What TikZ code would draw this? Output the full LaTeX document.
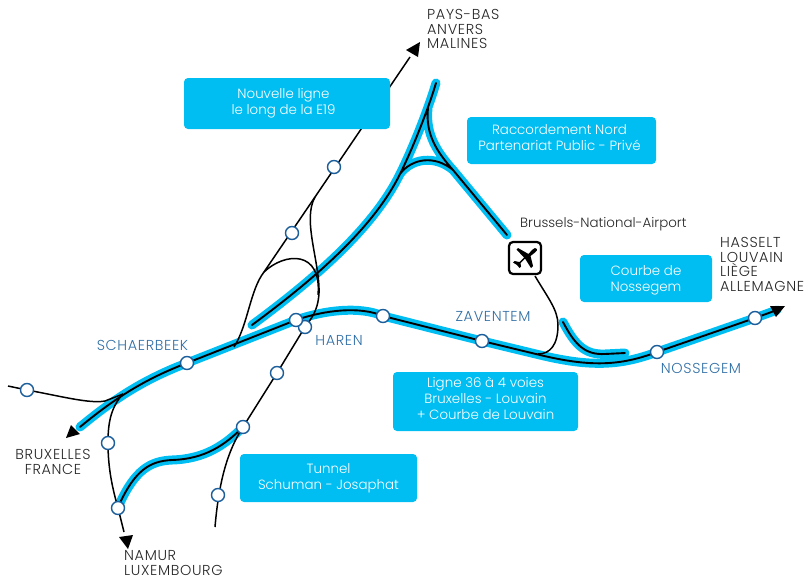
\documentclass[tikz,border=0pt]{standalone}
\usepackage{fontspec}
\setmainfont{Poppins Light}
\newfontfamily\capsfont[LetterSpace=4.5]{Poppins Light}
\definecolor{boxblue}{HTML}{00BDF2}
\definecolor{stnblue}{HTML}{1B5E9B}
\definecolor{placeblue}{HTML}{2F6EA5}
\newcommand\lift[1]{\rule[-#1pt]{0pt}{#1pt}}
\newcommand\drop[1]{\rule{0pt}{#1pt}}
\begin{document}
\begin{tikzpicture}[x=1pt,y=-1pt,
  stn/.style={circle,draw=stnblue,fill=white,line width=1.4pt,minimum size=13pt,inner sep=0pt},
  label box/.style={rectangle,rounded corners=4pt,fill=boxblue,text=white,align=center,anchor=center,font=\fontsize{13.4}{16}\selectfont,inner sep=0pt},
  place/.style={text=placeblue,font=\capsfont\fontsize{14.4}{15}\selectfont,inner sep=0pt},
  dest/.style={text=black!85,font=\capsfont\fontsize{14.4}{14.8}\selectfont,inner sep=0pt,align=left},
  wide/.style={draw=boxblue,line width=9pt,line cap=round,line join=round},
  core/.style={draw=black,line width=1.9pt,line cap=round,line join=round},
  thin track/.style={draw=black,line width=1.5pt},
  tip/.style={fill=black,draw=none}]
\useasboundingbox (0,0) rectangle (809,579);
% named points
\coordinate (bxl) at (80,427);
\coordinate (sch) at (187,363);
\coordinate (har) at (296,320);
\coordinate (top) at (436,83);
\coordinate (e19) at (252,325);
\coordinate (split) at (400,174);
\coordinate (merge) at (453,170);
\coordinate (apt) at (507,235);
\coordinate (east) at (777,310);
\def\tracks{
  (bxl) .. controls (115,398) and (145,379) .. (sch) -- (har)
     .. controls (325,310) and (360,306) .. (383,316) -- (482,341)
     -- (540,355) .. controls (590,367) and (620,366) .. (657,352) -- (755,318) -- (east)
  (e19) .. controls (320,275) and (375,225) .. (split) .. controls (412,150) and (428,110) .. (top)
  (split) .. controls (412,158) and (435,155) .. (merge) -- (apt)
  (428,108) .. controls (425,135) and (438,153) .. (merge)
  (563,322) .. controls (575,345) and (585,355) .. (605,354) -- (625,353)
  (119,505) .. controls (135,470) and (150,461) .. (172,460) .. controls (205,459) and (225,445) .. (243,427)
}
\path[wide] \tracks;
\path[core] \tracks;
% thin lines
\coordinate (north) at (410,57);
\coordinate (nordfork) at (315,197);
\coordinate (loopfork) at (264,272);
\coordinate (sjoin) at (215,527);
\coordinate (west) at (8,386);
\coordinate (wjoin) at (123,394);
\coordinate (sout) at (124,532);
\draw[thin track] (north) -- (nordfork) -- (loopfork) .. controls (250,290) and (248,325) .. (234,347);
\draw[thin track] (nordfork) .. controls (302,220) and (320,262) .. (319,293) .. controls (318,312) and (310,320) .. (305,327)
   -- (277,373) -- (243,427) .. controls (228,450) and (219,480) .. (sjoin);
\draw[thin track] (loopfork) .. controls (285,252) and (322,250) .. (318,295);
\draw[thin track] (west) -- (27,390) .. controls (60,396) and (90,404) .. (105,401) -- (wjoin);
\draw[thin track] (wjoin) .. controls (110,408) and (108,425) .. (108,443) .. controls (108,470) and (113,490) .. (118,508) -- (sout);
\draw[thin track] (535,276) .. controls (548,298) and (558,310) .. (558,325) .. controls (558,345) and (550,354) .. (538,354);
% arrow tips
\fill[tip] (71,425) -- (80,434) -- (66,438) -- cycle;
\fill[tip] (119,537) -- (133,535) -- (128,549) -- cycle;
\fill[tip] (770,306) -- (785,306) -- (776,317) -- cycle;
\fill[tip] (406,50) -- (420,42) -- (418,57) -- cycle;
% label boxes
\node[label box,minimum width=206pt,minimum height=51pt] (b1) at (287,103.5) {Nouvelle ligne\rule{7pt}{0pt}\\le long de la E19\rule{7pt}{0pt}\lift{4}};
\node[label box,minimum width=189pt,minimum height=47pt] (b2) at (561.5,140.5) {Raccordement Nord\rule{4pt}{0pt}\\Partenariat Public - Privé\rule{4pt}{0pt}\lift{6}};
\node[label box,minimum width=132pt,minimum height=47pt] (b3) at (646,278.5) {\drop{14}Courbe de\\Nossegem};
\node[label box,minimum width=185pt,minimum height=59pt] (b4) at (485.5,401.5) {Ligne 36 à 4 voies\\Bruxelles - Louvain\\+ Courbe de Louvain\lift{6}};
\node[label box,minimum width=177pt,minimum height=48pt] (b5) at (328.5,478) {Tunnel\\Schuman - Josaphat};
% stations
\foreach \n/\p in {s1/{27,390},s2/{187,363},s4/{305,327},s3/{296,320},s5/{383,316},s6/{482,341},s7/{657,352},s8/{755,318},s9/{334,167},s10/{292,233},s11/{277,373},s12/{243,427},s13/{218,495},s14/{108,443},s15/{118,508}}
  \node[stn] (\n) at (\p) {};
% airport
\node[draw=black,fill=white,line width=2.2pt,rounded corners=4pt,minimum size=32pt,inner sep=0pt] (plane) at (525,258) {};
\fill[black] (537,249) .. controls (536,247) and (534,248) .. (532,250) -- (528.5,254) -- (518,248) -- (516.5,249.5) -- (524,257.5) -- (519.5,262) -- (514.5,261) -- (513,262.5) -- (517,265) -- (519.5,268) -- (521,266.5) -- (520.5,263) -- (525,258.5) -- (531,268) -- (533,266) -- (530.5,256) -- (535,252.5) .. controls (537,250.5) and (537.5,250) .. (537,249) -- cycle;
% place labels
\node[place] (l1) at (142.5,345) {SCHAERBEEK};
\node[place] (l2) at (339,340) {HAREN};
\node[place] (l3) at (493,316) {ZAVENTEM};
\node[place] (l4) at (701,368) {NOSSEGEM};
% destinations
\node[dest,anchor=north west] (d1) at (427,9) {PAYS-BAS\\ANVERS\\MALINES};
\node[dest,anchor=north,align=center] (d2) at (53,449) {BRUXELLES\\FRANCE};
\node[dest,anchor=north west] (d3) at (124,550) {NAMUR\\LUXEMBOURG};
\node[dest,anchor=west,font=\fontsize{13.4}{16}\selectfont] (d4) at (520,224) {Brussels-National-Airport};
\node[dest,anchor=north west] (d5) at (720,237) {HASSELT\\LOUVAIN\\LIÈGE\\ALLEMAGNE};
\end{tikzpicture}
\end{document}
